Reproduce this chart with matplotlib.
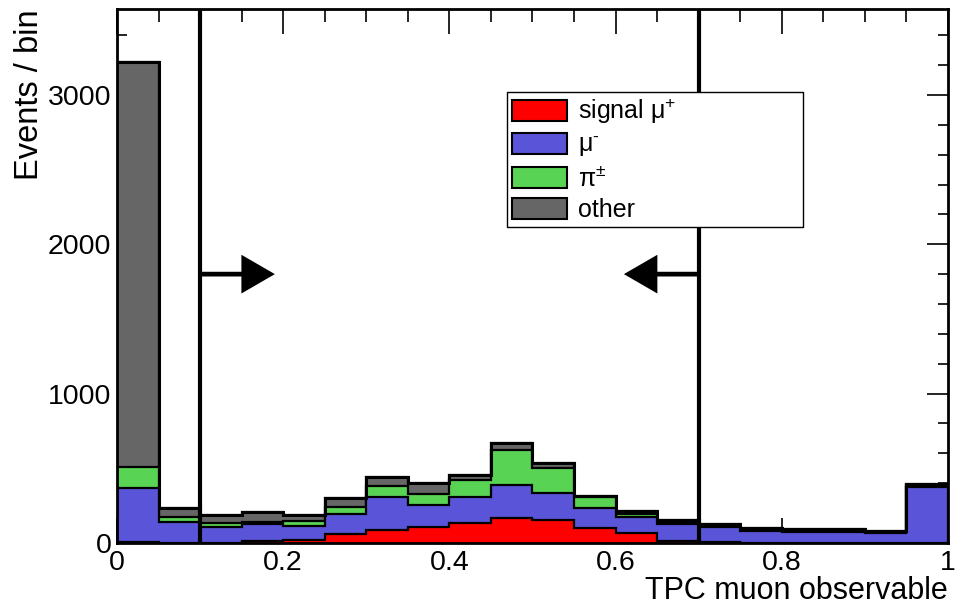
import numpy as np
import matplotlib
matplotlib.use("Agg")
import matplotlib.pyplot as plt
from matplotlib.patches import Patch

plt.rcParams['font.family'] = ['Liberation Sans', 'DejaVu Sans']
plt.rcParams['mathtext.fontset'] = 'custom'
plt.rcParams['mathtext.rm'] = 'Liberation Sans'
plt.rcParams['mathtext.it'] = 'Liberation Sans'
plt.rcParams['mathtext.default'] = 'rm'

# ---- data ----
bin_edges = np.linspace(0.0, 1.0, 21)
signal_mu_plus = [5, 2, 2, 12, 20, 60, 87, 107, 134, 167, 154, 100, 67, 15, 8, 2, 1, 1, 1, 1]
mu_minus = [363, 139, 105, 115, 94, 134, 221, 147, 174, 221, 181, 134, 107, 115, 102, 80, 75, 75, 65, 377]
pion = [143, 31, 27, 14, 33, 47, 74, 74, 114, 235, 167, 74, 20, 10, 8, 6, 6, 6, 6, 7]
other = [2709, 62, 54, 67, 41, 60, 60, 74, 33, 47, 34, 7, 20, 12, 7, 10, 10, 10, 8, 7]

labels = [r'signal $\mu^{+}$', r'$\mu^{\text{-}}$', r'$\pi^{\pm}$', 'other']
colors = ['#FF0000', '#5954D8', '#59D354', '#666666']
cut_low, cut_high = 0.1, 0.7
arrow_y = 1800

fig = plt.figure(figsize=(9.65, 6.05), dpi=100)
ax = fig.add_axes([0.1212, 0.1025, 0.8612, 0.8826])

comps = [np.array(signal_mu_plus), np.array(mu_minus), np.array(pion), np.array(other)]
cums = np.cumsum(comps, axis=0)
# draw from the total down (ROOT THStack style)
for i in range(3, -1, -1):
    ax.stairs(cums[i], bin_edges, baseline=0, fill=True, facecolor=colors[i],
              edgecolor='black', linewidth=1.6, zorder=2 + (3 - i))
ax.stairs(cums[3], bin_edges, baseline=None, fill=False, edgecolor='black',
          linewidth=2.2, zorder=7)

ax.set_xlim(0, 1)
ax.set_ylim(0, 3575)

# cut lines and arrows
for xc in (cut_low, cut_high):
    ax.axvline(xc, color='black', linewidth=3.0, zorder=8)
astyle = '-|>,head_length=1.9,head_width=1.1'
for x_from, x_to in ((cut_low, 0.19), (cut_high, 0.61)):
    ann = ax.annotate('', xy=(x_to, arrow_y), xytext=(x_from, arrow_y),
                      arrowprops=dict(arrowstyle=astyle, color='black', lw=3.4,
                                      shrinkA=0, shrinkB=0, joinstyle='miter',
                                      capstyle='butt'), zorder=9)

# ticks
ax.set_xticks([0, 0.2, 0.4, 0.6, 0.8, 1.0])
ax.set_xticklabels(['0', '0.2', '0.4', '0.6', '0.8', '1'])
ax.set_xticks(np.arange(0, 1.0001, 0.05), minor=True)
ax.set_yticks([0, 1000, 2000, 3000])
ax.set_yticks(np.arange(0, 3575, 200), minor=True)
ax.tick_params(axis='both', which='both', direction='in', top=True, right=True,
               labelsize=20.5, width=1.2, zorder=10)
ax.tick_params(axis='x', which='major', length=18, pad=5)
ax.tick_params(axis='x', which='minor', length=9)
ax.tick_params(axis='y', which='major', length=15, pad=4)
ax.tick_params(axis='y', which='minor', length=7)
for s in ax.spines.values():
    s.set_linewidth(2.0)
    s.set_zorder(10)

ax.set_xlabel('TPC muon observable', fontsize=22, loc='right', labelpad=0)
ax.set_ylabel('Events / bin', fontsize=23.5, loc='top', labelpad=2)

handles = [Patch(facecolor=c, edgecolor='black', linewidth=1.5) for c in colors]
leg = ax.legend(handles, labels, loc='upper left',
                bbox_to_anchor=(0.469, 0.596, 0.357, 0.249), mode='expand',
                fontsize=18, handlelength=2.2, handleheight=0.9, labelspacing=0.28,
                handletextpad=0.45, borderpad=0.2, borderaxespad=0,
                fancybox=False, framealpha=1, edgecolor='black')
leg.get_frame().set_linewidth(1.0)
leg.set_zorder(11)

fig.savefig('out.png', dpi=100)
